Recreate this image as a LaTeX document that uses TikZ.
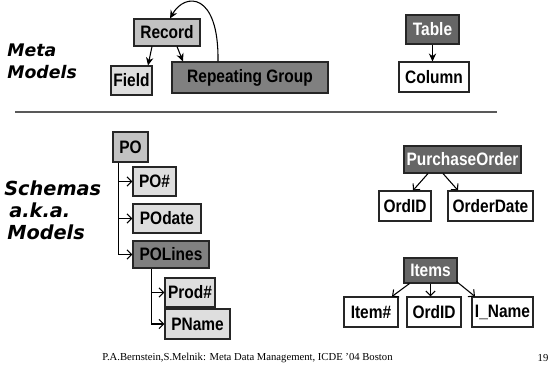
\documentclass[tikz,border=0pt]{standalone}
\usepackage{fontspec}
\setmainfont{Liberation Sans}
\newfontfamily\boxfont[FakeStretch=0.86]{Liberation Sans}
\newfontfamily\handfont{DejaVu Sans}
\newfontfamily\footfont{Liberation Serif}
\usetikzlibrary{arrows.meta,calc}

\definecolor{lightbox}{gray}{0.87}
\definecolor{midbox}{gray}{0.76}
\definecolor{darkbox}{gray}{0.50}
\definecolor{deepbox}{gray}{0.40}
\definecolor{rulegray}{gray}{0.35}

\begin{document}
\begin{tikzpicture}[x=0.75pt,y=-0.75pt,
  box/.style={draw=black!85, line width=0.8pt, inner sep=0pt, text=black,
    font=\boxfont\bfseries\fontsize{13.5}{14}\selectfont},
  sz/.style 2 args={minimum width={#1*0.75pt}, minimum height={#2*0.75pt}},
  light/.style={box, fill=lightbox},
  mid/.style={box, fill=midbox},
  dark/.style={box, fill=darkbox},
  deep/.style={box, fill=deepbox, text=white},
  plain/.style={box, fill=white},
  hand/.style={anchor=west, inner sep=0pt, font=\handfont\bfseries\itshape\fontsize{#1}{#1}\selectfont},
  solidarrow/.style={-{Stealth[length=6pt,width=5.5pt]}, line width=0.8pt},
  openarrow/.style={-{Straight Barb[length=3.5pt,width=7pt]}, line width=0.8pt},
  tree/.style={openarrow, rounded corners=0pt}
]
\useasboundingbox (0,0) rectangle (553,366);

% ---------- meta models ----------
\node[hand=13] (lblMeta)   at (7,50) {Meta};
\node[hand=13] (lblModels) at (7,72) {Models};

\node[mid,  sz={66}{27}]  (Record) at (167,32.5)  {Record};
\node[light,sz={41}{29}]  (Field)  at (131.5,80.5) {Field};
\node[dark, sz={156}{31}] (RG)     at (250,77.5)  {Repeating Group};

\draw[solidarrow] ($(Record.south)+(-15,0)$) -- ($(Field.north)+(16.5,0)$);
\draw[solidarrow] ($(Record.south)+(10,0)$)  -- ($(RG.north)+(-67,0)$);
\draw[solidarrow] ($(RG.north)+(-32,0)$)
   .. controls (219,-8) and (185,-8) .. ($(Record.north)+(3,0)$);

\node[deep, sz={53}{29}]  (Table)  at (432.5,29.5) {Table};
\node[plain,sz={70}{30}]  (Column) at (434,77)     {Column};
\draw[solidarrow] (Table.south) -- (Table.south |- Column.north);

% ---------- separator ----------
\coordinate (ruleL) at (15,112);
\coordinate (ruleR) at (497,112);
\draw[rulegray, line width=1.1pt] (ruleL) -- (ruleR);

% ---------- schemas ----------
\node[hand=14.5] (lblSchemas) at (4,188) {Schemas};
\node[hand=14.5] (lblAka)     at (9,210) {a.k.a.};
\node[hand=14.5] (lblModels2) at (7,232) {Models};

\node[mid,  sz={35}{30}] (PO)     at (130.5,147)  {PO};
\node[light,sz={43}{29}] (POnum)  at (154.5,181.5) {PO\#};
\node[light,sz={68}{29}] (POdate) at (167,218.5)  {POdate};
\node[dark, sz={76}{27}] (POL)    at (171,254.5)  {POLines};
\node[light,sz={50}{29}] (Prod)   at (190,292.5)  {Prod\#};
\node[light,sz={65}{30}] (PName)  at (197.5,324)  {PName};

\draw[tree] ($(PO.south west)+(6,0)$) |- (POnum.west);
\draw[tree] ($(PO.south west)+(6,0)$) |- (POdate.west);
\draw[tree] ($(PO.south west)+(6,0)$) |- (POL.west);
\draw[tree] ($(POL.south west)+(19,0)$) |- (Prod.west);
\draw[tree] ($(POL.south west)+(19,0)$) |- (PName.west);

\node[deep, sz={117}{27}] (PurOrd)    at (462.5,159.5) {PurchaseOrder};
\node[plain,sz={52}{30}]  (OrdID)     at (405,206)     {OrdID};
\node[plain,sz={85}{30}]  (OrderDate) at (490.5,206)   {OrderDate};
\draw[openarrow] ($(PurOrd.south)+(-34.5,0)$) -- ($(OrdID.north)+(8,0)$);
\draw[openarrow] ($(PurOrd.south)+(-19.5,0)$) -- ($(OrderDate.north)+(-32.5,0)$);

\node[deep, sz={53}{25}]  (Items)  at (430.5,270.5) {Items};
\node[plain,sz={54}{30}]  (ItemNo) at (371,312)     {Item\#};
\node[plain,sz={54}{30}]  (OrdIDb) at (434,312)     {OrdID};
\node[plain,sz={61}{30}]  (IName)  at (502.5,312)   {I\_Name};
\draw[openarrow] ($(Items.south)+(-21,0)$) -- ($(ItemNo.north)+(21,0)$);
\draw[openarrow] (Items.south) -- (Items.south |- OrdIDb.north);
\draw[openarrow] ($(Items.south)+(26,-2)$) -- ($(IName.north)+(-27.5,0)$);

% ---------- footer ----------
\node[anchor=west, inner sep=0pt, font=\footfont\fontsize{8}{9}\selectfont] (foot)
  at (102,358) {P.A.Bernstein,S.Melnik: Meta Data Management, ICDE ’04 Boston};
\node[inner sep=0pt, font=\footfont\fontsize{8}{9}\selectfont] (pageno) at (543,358) {19};
\end{tikzpicture}
\end{document}
